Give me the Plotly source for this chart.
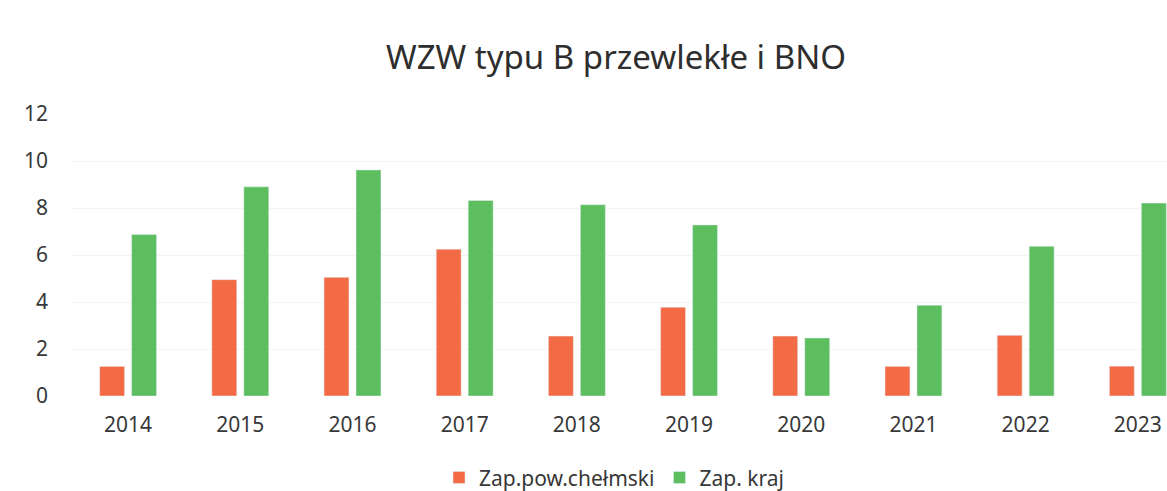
import plotly.graph_objects as go

years = ["2014", "2015", "2016", "2017", "2018", "2019", "2020", "2021", "2022", "2023"]
powiat = [1.26, 4.95, 5.05, 6.25, 2.55, 3.78, 2.55, 1.26, 2.58, 1.27]
kraj = [6.87, 8.9, 9.62, 8.32, 8.14, 7.28, 2.47, 3.86, 6.37, 8.21]
y_ticks = [0, 2, 4, 6, 8, 10, 12]

FONT = "Noto Sans"
TXT = "#383838"

fig = go.Figure()
fig.add_trace(go.Bar(x=years, y=powiat, name="Zap.pow.chełmski", marker_color="#F26B45"))
fig.add_trace(go.Bar(x=years, y=kraj, name="Zap. kraj", marker_color="#5CBE5E"))

fig.update_layout(
    width=1167, height=491,
    paper_bgcolor="white", plot_bgcolor="white",
    margin=dict(l=72, r=0, t=114, b=95, autoexpand=False),
    barmode="group", bargap=0.43, bargroupgap=0.22,
    title=dict(text="WZW typu B przewlekłe i BNO", x=616 / 1167, xanchor="center",
               y=1 - 57 / 491, yanchor="middle",
               font=dict(family=FONT, size=33, color="#2e2e2e")),
    font=dict(family=FONT, color=TXT),
    legend=dict(orientation="h", x=0.495, xanchor="center", y=-0.29, yanchor="middle",
                font=dict(family=FONT, size=21, color=TXT), itemwidth=30,
                traceorder="normal"),
)
fig.update_xaxes(type="category", range=[-0.5, 9.26], showgrid=False, showline=False,
                 automargin=False,
                 tickfont=dict(family=FONT, size=21, color=TXT), ticklabelstandoff=14)
fig.update_yaxes(range=[0, 12], tickvals=y_ticks, showgrid=True, gridcolor="#f4f4f4",
                 zeroline=False, showline=False, automargin=False,
                 tickfont=dict(family=FONT, size=21, color=TXT), ticklabelstandoff=23)

fig.write_html(
    "out.html",
    config={"displayModeBar": False},
    post_script="document.body.style.margin='0';document.body.style.overflow='hidden';",
)
